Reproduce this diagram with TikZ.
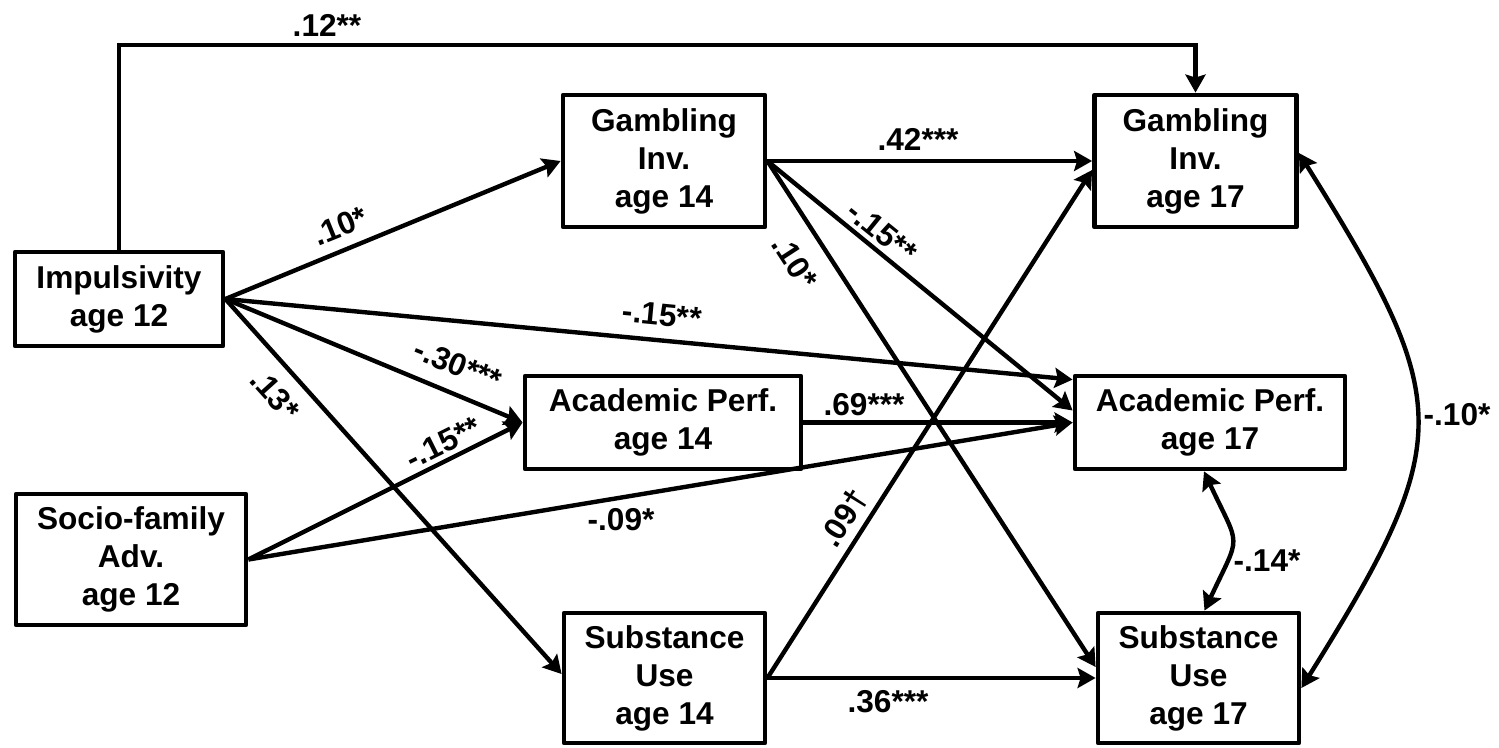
\documentclass[tikz,border=0pt]{standalone}
\usepackage{fontspec}
\setmainfont{Liberation Sans}
\usetikzlibrary{arrows.meta}
\tikzset{
  varbox/.style={draw, line width=2.4pt, line join=round, align=center, inner sep=0pt,
    font=\fontsize{15.8}{19}\selectfont\bfseries},
  link/.style={line width=2.2pt, -{Stealth[length=9pt,width=10pt,inset=1.5pt]}},
  corr/.style={line width=2.2pt, {Stealth[length=9pt,width=10pt,inset=1.5pt]}-{Stealth[length=9pt,width=10pt,inset=1.5pt]}},
  coef/.style={font=\fontsize{15.8}{19}\selectfont\bfseries, inner sep=0pt}
}

\begin{document}
\begin{tikzpicture}[x=0.5pt, y=-0.5pt]
  \useasboundingbox (0,0) rectangle (1499,748);
  % age 12
  \node[varbox, minimum width=104pt, minimum height=47pt] (imp) at (119,299) {Impulsivity\\age 12};
  \node[varbox, minimum width=115pt, minimum height=65.5pt] (soc) at (131,559.5) {Socio-family\\Adv.\\age 12};
  % age 14
  \node[varbox, minimum width=101pt, minimum height=66pt] (gam14) at (664,161) {Gambling\\Inv.\\age 14};
  \node[varbox, minimum width=138pt, minimum height=46.5pt] (aca14) at (663,422.5) {Academic Perf.\\age 14};
  \node[varbox, minimum width=100.5pt, minimum height=65pt] (sub14) at (664.5,678) {Substance\\Use\\age 14};
  % age 17
  \node[varbox, minimum width=101pt, minimum height=66pt] (gam17) at (1195.5,161) {Gambling\\Inv.\\age 17};
  \node[varbox, minimum width=135pt, minimum height=46.5pt] (aca17) at (1210,422.5) {Academic Perf.\\age 17};
  \node[varbox, minimum width=100.5pt, minimum height=65pt] (sub17) at (1198.5,678) {Substance\\Use\\age 17};

  \coordinate (topbend) at (119,45);
  \draw[link] (imp.north) -- (topbend) -| (gam17.north);
  \draw[link] (imp.east) -- (gam14.west);
  \draw[link] (imp.east) -- ([yshift=-3pt]aca17.north west);
  \draw[link] (imp.east) -- (aca14.west);
  \draw[link] (imp.east) -- ([yshift=2pt]sub14.west);
  \draw[link] (soc.east) -- (aca14.west);
  \draw[link] (soc.east) -- (aca17.west);
  \draw[link] (gam14.east) -- (gam17.west);
  \draw[link] (gam14.east) -- ([yshift=6pt]aca17.west);
  \draw[link] (gam14.east) -- ([yshift=5.5pt]sub17.west);
  \draw[link] (aca14.east) -- (aca17.west);
  \draw[link] (sub14.east) -- ([yshift=-4.5pt]gam17.west);
  \draw[link] (sub14.east) -- (sub17.west);
  \draw[corr] ([yshift=4pt]gam17.east) to[out=-58, in=58, looseness=1.4] ([yshift=-5pt]sub17.east);
  \draw[corr] ([xshift=-3pt]aca17.south) to[out=-65, in=65, looseness=1.6] ([xshift=3pt]sub17.north);

  % coefficients
  \node[coef] (c-top) at (327,25) {.12**};
  \node[coef, rotate=22] (c-imp-gam14) at (340,226) {.10*};
  \node[coef, rotate=-5.5] (c-imp-aca17) at (662,315) {-.15**};
  \node[coef, rotate=-22] (c-imp-aca14) at (458,365) {-.30***};
  \node[coef, rotate=-48] (c-imp-sub14) at (275,395) {.13*};
  \node[coef, rotate=26.5] (c-soc-aca14) at (443,443) {-.15**};
  \node[coef] (c-soc-aca17) at (621,520) {-.09*};
  \node[coef] (c-gam) at (918,139) {.42***};
  \node[coef, rotate=-39] (c-gam14-aca17) at (882,232) {-.15**};
  \node[coef, rotate=-57] (c-gam14-sub17) at (795,262) {.10*};
  \node[coef] (c-aca) at (864,405) {.69***};
  \node[coef, rotate=57.5] (c-sub14-gam17) at (844,518) {.09†};
  \node[coef] (c-sub) at (888,702) {.36***};
  \node[coef] (c-gam-sub) at (1457,415) {-.10*};
  \node[coef] (c-aca-sub) at (1267,561) {-.14*};
\end{tikzpicture}
\end{document}
